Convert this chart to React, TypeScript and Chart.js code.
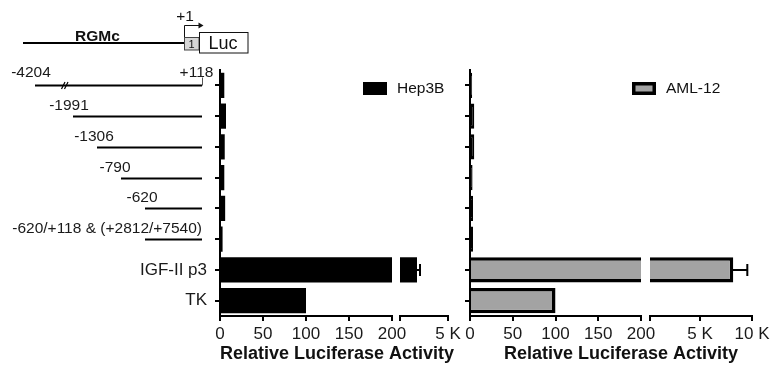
import React, { useEffect, useRef } from 'react';
import { Chart, registerables } from 'chart.js';

Chart.register(...registerables);

const W = 773;
const H = 369;
const FONT = "'Liberation Sans', Arial, Helvetica, sans-serif";

// ---- data ----
const categories = [
  '-4204/+118',
  '-1991/+118',
  '-1306/+118',
  '-790/+118',
  '-620/+118',
  '-620/+118 & (+2812/+7540)',
  'IGF-II p3',
  'TK',
];
const constructStartLabels = ['-4204', '-1991', '-1306', '-790', '-620', '-620/+118 & (+2812/+7540)'];
const constructEndLabel = '+118';
const hep3bValues = [5, 7, 5.5, 5, 6, 3, 1900, 100];
const hep3bErrors = [0, 0, 0, 0, 0, 0, 300, 0];
const aml12Values = [2.5, 5, 5, 3, 3.5, 3.5, 8200, 100];
const aml12Errors = [0, 0, 0, 0, 0, 0, 1350, 0];
const lowTicks = [0, 50, 100, 150, 200];
const hep3bHighTicks = [200, 5000];
const aml12HighTicks = [200, 5000, 10000];
const axisTitleText = 'Relative Luciferase Activity';

// ---- schematic styling (pixel layout of the construct drawing) ----
const schematicStyle = {
  lineEnd: 202,
  starts: [35, 73, 97, 121, 145, 145],
  labelCenters: [31, 69, 94, 115, 142, 0],
};

const errorBarsPlugin = {
  id: 'errorBars',
  afterDatasetsDraw(chart: any) {
    const xs = chart.scales.x;
    const area = chart.chartArea;
    const ctx = chart.ctx;
    chart.data.datasets.forEach((ds: any, di: number) => {
      const errs = ds.errors;
      if (!errs) return;
      const meta = chart.getDatasetMeta(di);
      meta.data.forEach((bar: any, i: number) => {
        const e = errs[i];
        if (!e) return;
        const v = ds.data[i];
        const x0 = xs.getPixelForValue(v);
        const x1 = xs.getPixelForValue(v + e);
        const y = bar.y;
        ctx.save();
        ctx.beginPath();
        ctx.rect(area.left, area.top, area.right - area.left + 2, area.bottom - area.top);
        ctx.clip();
        ctx.strokeStyle = '#000';
        ctx.lineWidth = 2;
        ctx.beginPath();
        ctx.moveTo(x0 - 1, y);
        ctx.lineTo(x1, y);
        ctx.moveTo(x1, y - 6);
        ctx.lineTo(x1, y + 6);
        ctx.stroke();
        ctx.restore();
      });
    });
  },
};

const legendBoxPlugin = {
  id: 'legendBox',
  afterDraw(chart: any, _a: any, opts: any) {
    if (!opts || opts.x === undefined) return;
    const ctx = chart.ctx;
    const ds = chart.data.datasets[0];
    const bw = opts.borderWidth || 0;
    ctx.save();
    ctx.fillStyle = '#000';
    ctx.fillRect(opts.x, opts.y, opts.w, opts.h);
    if (bw > 0) {
      ctx.fillStyle = opts.fill;
      ctx.fillRect(opts.x + bw, opts.y + bw, opts.w - 2 * bw, opts.h - 2 * bw);
    }
    ctx.fillStyle = '#111';
    ctx.font = `15.5px ${FONT}`;
    ctx.textBaseline = 'middle';
    ctx.textAlign = 'left';
    ctx.fillText(ds.label, opts.x + opts.w + 10, opts.y + opts.h / 2 + 0.5);
    ctx.restore();
  },
};

const axisTitlePlugin = {
  id: 'axisTitle',
  afterDraw(chart: any, _a: any, opts: any) {
    if (!opts || opts.x === undefined) return;
    const ctx = chart.ctx;
    ctx.save();
    ctx.fillStyle = '#111';
    ctx.font = `bold 18px ${FONT}`;
    ctx.textAlign = 'center';
    ctx.textBaseline = 'alphabetic';
    ctx.fillText(axisTitleText, opts.x, opts.y);
    ctx.restore();
  },
};

const schematicPlugin = {
  id: 'schematic',
  afterDraw(chart: any) {
    const ctx = chart.ctx;
    const ys = chart.scales.y;
    const end = schematicStyle.lineEnd;
    ctx.save();
    ctx.lineCap = 'butt';
    // gene line
    ctx.strokeStyle = '#000';
    ctx.lineWidth = 2;
    ctx.beginPath();
    ctx.moveTo(23, 43);
    ctx.lineTo(184, 43);
    ctx.stroke();
    // exon 1 box
    ctx.fillStyle = '#d6d6d6';
    ctx.fillRect(184, 37, 15, 13);
    ctx.lineWidth = 1;
    ctx.strokeStyle = '#444';
    ctx.strokeRect(184.5, 37.5, 14.5, 12.5);
    // Luc box
    ctx.fillStyle = '#fff';
    ctx.fillRect(199, 32, 49, 21);
    ctx.strokeStyle = '#111';
    ctx.strokeRect(199.5, 32.5, 48.5, 20.5);
    // arrow
    ctx.beginPath();
    ctx.moveTo(184.5, 37);
    ctx.lineTo(184.5, 25.5);
    ctx.lineTo(199, 25.5);
    ctx.stroke();
    ctx.fillStyle = '#111';
    ctx.beginPath();
    ctx.moveTo(198.5, 22.5);
    ctx.lineTo(203.5, 25.5);
    ctx.lineTo(198.5, 28.5);
    ctx.closePath();
    ctx.fill();
    // texts
    ctx.fillStyle = '#111';
    ctx.textAlign = 'center';
    ctx.textBaseline = 'alphabetic';
    ctx.font = `bold 15.5px ${FONT}`;
    ctx.fillText('RGMc', 97.5, 40.5);
    ctx.font = `15.5px ${FONT}`;
    ctx.fillText('+1', 185, 21);
    ctx.font = `11px ${FONT}`;
    ctx.fillText('1', 191.5, 48);
    ctx.font = `18px ${FONT}`;
    ctx.fillText('Luc', 223, 49);

    // constructs
    ctx.font = `15.5px ${FONT}`;
    constructStartLabels.forEach((lab, i) => {
      const y = Math.round(ys.getPixelForValue(i)) + 0.5;
      ctx.strokeStyle = '#000';
      ctx.lineWidth = 2;
      ctx.beginPath();
      ctx.moveTo(schematicStyle.starts[i], y);
      ctx.lineTo(end, y);
      ctx.stroke();
      ctx.fillStyle = '#1a1a1a';
      if (i === constructStartLabels.length - 1) {
        ctx.textAlign = 'right';
        ctx.fillText(lab, end, y - 7);
      } else {
        ctx.textAlign = 'center';
        ctx.fillText(lab, schematicStyle.labelCenters[i], y - (i === 0 ? 8.5 : 7));
      }
      if (i === 0) {
        ctx.textAlign = 'center';
        ctx.fillText(constructEndLabel, 196.5, y - 8.5);
        ctx.lineWidth = 1;
        ctx.strokeStyle = '#555';
        ctx.beginPath();
        ctx.moveTo(end + 0.5, y - 8);
        ctx.lineTo(end + 0.5, y);
        ctx.stroke();
        ctx.strokeStyle = '#000';
        ctx.lineWidth = 1.2;
        ctx.beginPath();
        ctx.moveTo(61.5, y + 3.5);
        ctx.lineTo(65, y - 3.5);
        ctx.moveTo(64.5, y + 3.5);
        ctx.lineTo(68, y - 3.5);
        ctx.stroke();
      }
    });
    ctx.restore();
  },
};

interface PanelOpts {
  label: string;
  values: number[];
  errors: number[];
  fill: string;
  borderWidth: number;
  left: number;
  right: number;
  yWidth: number;
  showY: boolean;
  showYLabels: boolean;
  min: number;
  max: number;
  ticks: number[];
  high: boolean;
  legend?: any;
  title?: any;
  schematic?: boolean;
}

function makeChart(canvas: HTMLCanvasElement, p: PanelOpts) {
  const plugins: any[] = [errorBarsPlugin, legendBoxPlugin, axisTitlePlugin];
  if (p.schematic) plugins.push(schematicPlugin);
  return new Chart(canvas, {
    type: 'bar',
    data: {
      labels: categories,
      datasets: [
        {
          label: p.label,
          data: p.values,
          errors: p.errors,
          // very thin bars render as solid border colour, as in the print
          backgroundColor: (c: any) => {
            const v = c.raw as number;
            return p.borderWidth > 0 && v < 10 ? '#000' : p.fill;
          },
          borderColor: '#000',
          borderWidth: p.borderWidth,
          borderSkipped: 'start',
          barPercentage: 0.82,
          categoryPercentage: 1,
          clip: 0,
        } as any,
      ],
    },
    options: {
      indexAxis: 'y',
      responsive: false,
      maintainAspectRatio: false,
      animation: false,
      events: [],
      layout: { padding: { left: p.left, right: W - p.right, top: 70, bottom: 0 } },
      plugins: {
        legend: { display: false },
        tooltip: { enabled: false },
        legendBox: p.legend ? { ...p.legend, fill: p.fill } : {},
        axisTitle: p.title || {},
      } as any,
      scales: {
        x: {
          type: 'linear',
          min: p.min,
          max: p.max,
          afterBuildTicks: (s: any) => {
            s.ticks = p.ticks.map((v) => ({ value: v }));
          },
          afterFit: (s: any) => {
            s.height = 53;
          },
          ticks: {
            autoSkip: false,
            maxRotation: 0,
            minRotation: 0,
            padding: 3,
            color: '#1a1a1a',
            font: { family: FONT, size: 17 },
            callback: (v: any) => {
              const n = Number(v);
              if (p.high) return n === p.min ? '' : `${n / 1000} K`;
              return String(n);
            },
          },
          grid: { drawOnChartArea: false, drawTicks: true, tickLength: 5, color: '#000', lineWidth: 2 },
          border: { display: true, color: '#000', width: 2 },
        },
        y: {
          type: 'category',
          display: p.showY,
          offset: true,
          afterFit: (s: any) => {
            s.width = p.yWidth;
          },
          ticks: {
            display: p.showYLabels,
            autoSkip: false,
            padding: 8,
            color: '#1a1a1a',
            font: { family: FONT, size: 17 },
            callback: (_v: any, i: number) => (i >= constructStartLabels.length ? categories[i] : ''),
          },
          grid: { offset: false, drawOnChartArea: false, drawTicks: true, tickLength: 5, color: '#000', lineWidth: 2 },
          border: { display: true, color: '#000', width: 2 },
        },
      },
    } as any,
    plugins,
  });
}

export default function App() {
  const r1 = useRef<HTMLCanvasElement>(null);
  const r2 = useRef<HTMLCanvasElement>(null);
  const r3 = useRef<HTMLCanvasElement>(null);
  const r4 = useRef<HTMLCanvasElement>(null);

  useEffect(() => {
    const charts = [
      makeChart(r1.current!, {
        label: 'Hep3B',
        values: hep3bValues,
        errors: hep3bErrors,
        fill: '#000',
        borderWidth: 0,
        left: 0,
        right: 392,
        yWidth: 220,
        showY: true,
        showYLabels: true,
        min: 0,
        max: 200,
        ticks: lowTicks,
        high: false,
        legend: { x: 363, y: 82, w: 24, h: 13, borderWidth: 0 },
        title: { x: 337, y: 359 },
        schematic: true,
      }),
      makeChart(r2.current!, {
        label: 'Hep3B',
        values: hep3bValues,
        errors: hep3bErrors,
        fill: '#000',
        borderWidth: 0,
        left: 400,
        right: 448,
        yWidth: 0,
        showY: false,
        showYLabels: false,
        min: 200,
        max: 5000,
        ticks: hep3bHighTicks,
        high: true,
      }),
      makeChart(r3.current!, {
        label: 'AML-12',
        values: aml12Values,
        errors: aml12Errors,
        fill: '#a3a3a3',
        borderWidth: 3.5,
        left: 440,
        right: 641,
        yWidth: 30,
        showY: true,
        showYLabels: false,
        min: 0,
        max: 200,
        ticks: lowTicks,
        high: false,
        legend: { x: 632, y: 82, w: 24, h: 13, borderWidth: 3.5 },
        title: { x: 621, y: 359 },
      }),
      makeChart(r4.current!, {
        label: 'AML-12',
        values: aml12Values,
        errors: aml12Errors,
        fill: '#a3a3a3',
        borderWidth: 3.5,
        left: 650,
        right: 752,
        yWidth: 0,
        showY: false,
        showYLabels: false,
        min: 200,
        max: 10000,
        ticks: aml12HighTicks,
        high: true,
      }),
    ];
    return () => charts.forEach((c) => c.destroy());
  }, []);

  const cs: React.CSSProperties = { position: 'absolute', left: 0, top: 0, width: W, height: H };
  return (
    <div style={{ position: 'absolute', left: 0, top: 0, width: W, height: H, background: '#fff' }}>
      <canvas ref={r1} width={W} height={H} style={cs} />
      <canvas ref={r2} width={W} height={H} style={cs} />
      <canvas ref={r3} width={W} height={H} style={cs} />
      <canvas ref={r4} width={W} height={H} style={cs} />
    </div>
  );
}
